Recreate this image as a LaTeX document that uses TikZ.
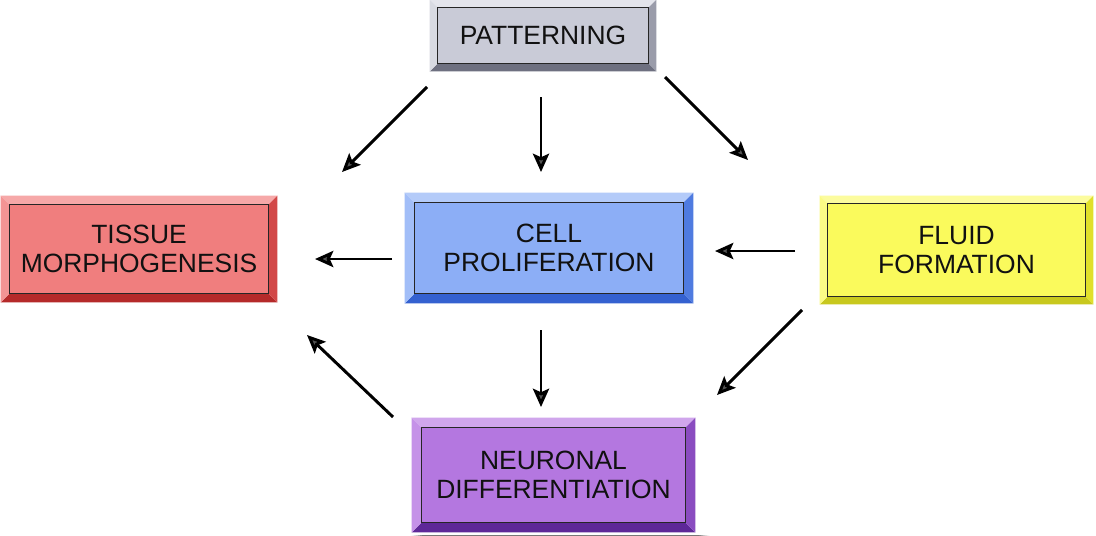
\documentclass[tikz,border=0pt]{standalone}
\usepackage{fontspec}
\setmainfont{Liberation Sans}
\usetikzlibrary{arrows.meta,calc,shadows.blur}
\pgfdeclarelayer{background}
\pgfsetlayers{background,main}
\newdimen\pxu \pxu=0.025cm
\definecolor{pI}{HTML}{C9CBD7}\definecolor{pT}{HTML}{E4E5EC}\definecolor{pL}{HTML}{D8DAE2}\definecolor{pR}{HTML}{9A9CAA}\definecolor{pB}{HTML}{6E7080}
\definecolor{tI}{HTML}{F07E7E}\definecolor{tT}{HTML}{F6A8A8}\definecolor{tL}{HTML}{F39494}\definecolor{tR}{HTML}{D24848}\definecolor{tB}{HTML}{B52A2A}
\definecolor{cI}{HTML}{8CAEF6}\definecolor{cT}{HTML}{B4CBF9}\definecolor{cL}{HTML}{A2BEF8}\definecolor{cR}{HTML}{4F7BE0}\definecolor{cB}{HTML}{3461D0}
\definecolor{fI}{HTML}{FAFA5C}\definecolor{fT}{HTML}{FCFC9E}\definecolor{fL}{HTML}{FBFB86}\definecolor{fR}{HTML}{E0E02A}\definecolor{fB}{HTML}{C8C81E}
\definecolor{nI}{HTML}{B477E0}\definecolor{nT}{HTML}{D0A6EC}\definecolor{nL}{HTML}{C592E8}\definecolor{nR}{HTML}{8A4CC0}\definecolor{nB}{HTML}{5E2898}
\definecolor{txt}{HTML}{111111}
% #1 name, #2 cx, #3 cy, #4 w, #5 h, #6 bevel, #7 color prefix, #8 text
\newcommand\bevbox[8]{%
  \node[boxstyle, fill=#7I, minimum width=#4\pxu, minimum height=#5\pxu] (#1) at (#2,#3) {#8};
  \fill[#7T] ($(#1.north west)+(-#6,-#6)$) -- ($(#1.north east)+(#6,-#6)$) -- (#1.north east) -- (#1.north west) -- cycle;
  \fill[#7B] ($(#1.south west)+(-#6,#6)$) -- ($(#1.south east)+(#6,#6)$) -- (#1.south east) -- (#1.south west) -- cycle;
  \fill[#7L] ($(#1.north west)+(-#6,-#6)$) -- (#1.north west) -- (#1.south west) -- ($(#1.south west)+(-#6,#6)$) -- cycle;
  \fill[#7R] ($(#1.north east)+(#6,-#6)$) -- (#1.north east) -- (#1.south east) -- ($(#1.south east)+(#6,#6)$) -- cycle;
  \draw[black!85, line width=0.9pt] (#1.north west) rectangle (#1.south east);
  \begin{pgfonlayer}{background}
    \fill[white, blur shadow={shadow xshift=5pt, shadow yshift=-5pt, shadow blur radius=5pt, shadow opacity=65}]
      ($(#1.north west)+(-#6,-#6)$) rectangle ($(#1.south east)+(#6,#6)$);
  \end{pgfonlayer}
}
\tikzset{
  boxstyle/.style={draw=none, inner sep=0pt, align=center, text=txt,
    font=\fontsize{18.8}{21}\selectfont},
  arr/.style={line width=2.1pt, -{Stealth[length=13pt, width=11.5pt, inset=2.5pt]}},
}
\begin{document}
\begin{tikzpicture}[x=0.025cm, y=-0.025cm]
\useasboundingbox (0,0) rectangle (1096,535);
\fill[white] (0,0) rectangle (1096,535);
\bevbox{pat}{543}{35.5}{210}{55}{8}{p}{PATTERNING}
\bevbox{tis}{139}{249}{258}{88}{9}{t}{TISSUE\\MORPHOGENESIS}
\bevbox{cel}{549}{248}{268}{90}{10}{c}{CELL\\PROLIFERATION}
\bevbox{flu}{956.5}{250}{257}{92}{8}{f}{FLUID\\FORMATION}
\bevbox{neu}{553.5}{475}{263}{94}{10}{n}{NEURONAL\\DIFFERENTIATION}
% arrow end points
\coordinate (a1s) at (427,87);  \coordinate (a1e) at (342,172);
\coordinate (a2s) at (541,97);  \coordinate (a2e) at (541,172);
\coordinate (a3s) at (665,77);  \coordinate (a3e) at (748,160);
\coordinate (a4s) at (392,259); \coordinate (a4e) at (315,259);
\coordinate (a5s) at (795,251); \coordinate (a5e) at (715,251);
\coordinate (a6s) at (541,330); \coordinate (a6e) at (541,407);
\coordinate (a7s) at (802,310); \coordinate (a7e) at (717,395);
\coordinate (a8s) at (393,417); \coordinate (a8e) at (307,335);
\draw[arr] (a1s) -- (a1e);
\draw[arr] (a2s) -- (a2e);
\draw[arr] (a3s) -- (a3e);
\draw[arr] (a4s) -- (a4e);
\draw[arr] (a5s) -- (a5e);
\draw[arr] (a6s) -- (a6e);
\draw[arr] (a7s) -- (a7e);
\draw[arr] (a8s) -- (a8e);
\end{tikzpicture}
\end{document}
